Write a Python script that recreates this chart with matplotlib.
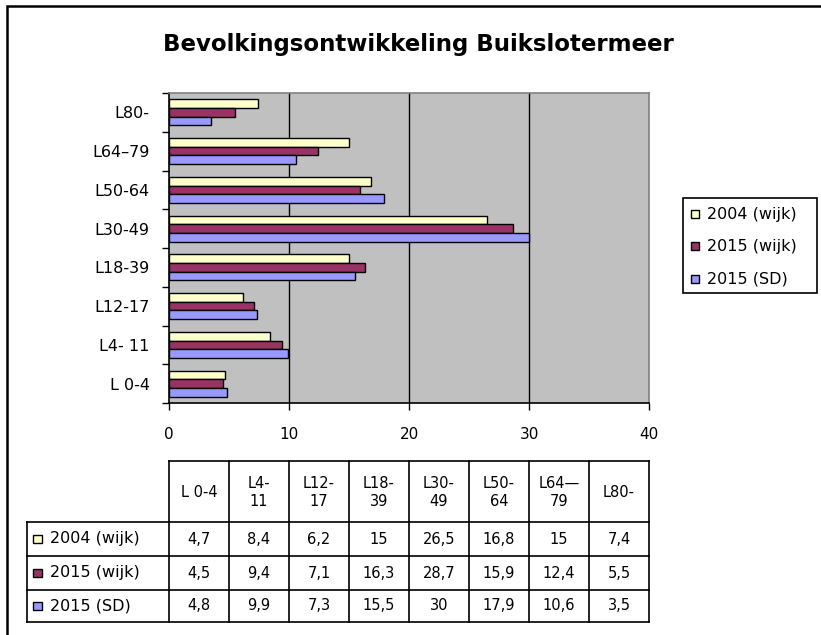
import matplotlib
matplotlib.use("Agg")
import matplotlib.pyplot as plt
from matplotlib.patches import Rectangle
import numpy as np

plt.rcParams['font.family'] = ['DejaVu Sans']

title = "Bevolkingsontwikkeling Buikslotermeer"
categories = ["L 0-4", "L4- 11", "L12-17", "L18-39", "L30-49", "L50-64", "L64\u201379", "L80-"]
table_headers = ["L 0-4", "L4-\n11", "L12-\n17", "L18-\n39", "L30-\n49", "L50-\n64", "L64\u2014\n79", "L80-"]
series_names = ["2004 (wijk)", "2015 (wijk)", "2015 (SD)"]
v2004_wijk = [4.7, 8.4, 6.2, 15, 26.5, 16.8, 15, 7.4]
v2015_wijk = [4.5, 9.4, 7.1, 16.3, 28.7, 15.9, 12.4, 5.5]
v2015_sd = [4.8, 9.9, 7.3, 15.5, 30, 17.9, 10.6, 3.5]
series_values = [v2004_wijk, v2015_wijk, v2015_sd]
colors = ["#FFFFCC", "#993366", "#9999FF"]
xticks = [0, 10, 20, 30, 40]

W, H = 821, 635
fig = plt.figure(figsize=(W / 100, H / 100), dpi=100)

# overlay in pixel coordinates
ov = fig.add_axes([0, 0, 1, 1], zorder=0)
ov.set_xlim(0, W)
ov.set_ylim(H, 0)
ov.axis('off')

# outer chart border (left + top)
ov.plot([7, 7, W + 5], [H + 5, 6, 6], color='black', lw=1.8, solid_joinstyle='miter')

# title
ov.text(418, 45, title, ha='center', va='center', fontsize=16.5, fontweight='bold')

# main plot axes
px_l, px_r, px_t, px_b = 169, 649, 93, 403
ax = fig.add_axes([px_l / W, 1 - px_b / H, (px_r - px_l) / W, (px_b - px_t) / H], zorder=2)
ax.set_facecolor('#C0C0C0')
n = len(categories)
y = np.arange(n)
h = 0.667 / 3
offsets = [h, 0, -h]
for vals, col, off, name in zip(series_values, colors, offsets, series_names):
    ax.barh(y + off, vals, height=h, color=col, edgecolor='black', linewidth=1.0, zorder=3, label=name)
ax.set_xlim(0, 40)
ax.set_ylim(-0.5, n - 0.5)
for g in xticks[1:-1]:
    ax.axvline(g, color='black', lw=1.0, zorder=1)
ax.set_xticks(xticks)
ax.set_xticklabels([str(t) for t in xticks], fontsize=11)
ax.tick_params(axis='x', direction='out', length=5, width=1, pad=12)
ax.set_yticks(y)
ax.set_yticklabels(categories, fontsize=11.5)
ax.tick_params(axis='y', which='major', length=0, pad=14)
ax.set_yticks(np.arange(-0.5, n, 1.0), minor=True)
ax.tick_params(axis='y', which='minor', direction='out', length=5, width=1)
for s in ['left', 'bottom']:
    ax.spines[s].set_color('black')
    ax.spines[s].set_linewidth(1.2)
for s in ['top', 'right']:
    ax.spines[s].set_color('#808080')
    ax.spines[s].set_linewidth(1.2)

# legend box (manual)
ov.add_patch(Rectangle((683, 198), 134, 95, facecolor='white', edgecolor='black', lw=1.2))
leg_y = [214, 246, 279]
for name, col, ly in zip(series_names, colors, leg_y):
    ov.add_patch(Rectangle((691, ly - 4), 8, 8, facecolor=col, edgecolor='black', lw=1.0))
    ov.text(707, ly, name, ha='left', va='center', fontsize=11.5)

# data table
col_x = [169 + 60 * i for i in range(n + 1)]
hdr_top, hdr_bot = 461, 522
row_edges = [522, 556, 590, 622]
lab_left = 27
lc = 'black'
lw = 1.2
ov.plot([col_x[0], col_x[-1]], [hdr_top, hdr_top], color=lc, lw=lw)
for cx in col_x:
    ov.plot([cx, cx], [hdr_top, row_edges[-1]], color=lc, lw=lw)
for ry in row_edges:
    ov.plot([lab_left, col_x[-1]], [ry, ry], color=lc, lw=lw)
ov.plot([lab_left, lab_left], [row_edges[0], row_edges[-1]], color=lc, lw=lw)
for i, lab in enumerate(table_headers):
    ov.text((col_x[i] + col_x[i + 1]) / 2, (hdr_top + hdr_bot) / 2 + 1, lab,
            ha='center', va='center', fontsize=10.5, linespacing=1.3)
for r, (name, col, vals) in enumerate(zip(series_names, colors, series_values)):
    cy = (row_edges[r] + row_edges[r + 1]) / 2
    ov.add_patch(Rectangle((33, cy - 4), 9, 8, facecolor=col, edgecolor='black', lw=1.0))
    ov.text(50, cy, name, ha='left', va='center', fontsize=11.5)
    for i, v in enumerate(vals):
        s = ("%g" % v).replace('.', ',')
        ov.text((col_x[i] + col_x[i + 1]) / 2, cy, s, ha='center', va='center', fontsize=10.5)

fig.savefig("out.png", dpi=100)
